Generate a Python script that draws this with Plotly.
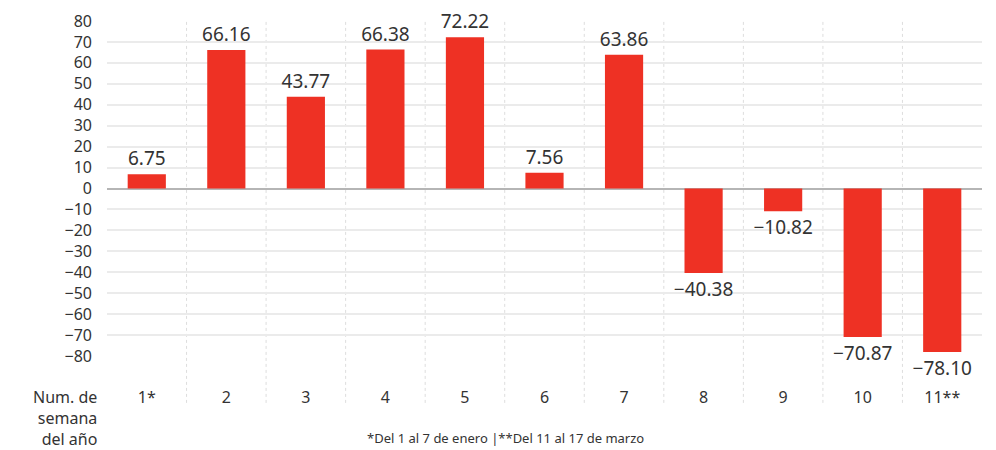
import plotly.graph_objects as go

weeks = ["1", "2", "3", "4", "5", "6", "7", "8", "9", "10", "11"]
week_labels = ["1*", "2", "3", "4", "5", "6", "7", "8", "9", "10", "11**"]
values = [6.75, 66.16, 43.77, 66.38, 72.22, 7.56, 63.86, -40.38, -10.82, -70.87, -78.10]
y_ticks = [80, 70, 60, 50, 40, 30, 20, 10, 0, -10, -20, -30, -40, -50, -60, -70, -80]

FONT = "Noto Sans"
TXT = "#333333"
RED = "#EE3124"

texts = [f"{v:.2f}".replace("-", "\u2212") for v in values]
xpos = list(range(len(weeks)))

fig = go.Figure()
fig.add_trace(go.Bar(
    x=xpos, y=values, marker=dict(color=RED, line=dict(width=0)),
    text=texts, textposition="outside", constraintext="none",
    textfont=dict(family=FONT, size=19, color=TXT),
    cliponaxis=False, hoverinfo="skip",
))

shapes = []
for i in range(len(weeks) - 1):
    shapes.append(dict(type="line", xref="x", yref="paper", x0=i + 0.5, x1=i + 0.5,
                       y0=-0.14, y1=1, line=dict(color="#dddddd", width=1, dash="3px,3px"), layer="below"))

fig.update_layout(
    width=996, height=450,
    margin=dict(l=99, r=22, t=13, b=102),
    paper_bgcolor="white", plot_bgcolor="white",
    bargap=0.52, showlegend=False,
    font=dict(family=FONT, color=TXT),
    shapes=shapes,
    xaxis=dict(tickmode="array", tickvals=xpos, ticktext=week_labels, range=[-0.5, len(weeks) - 0.5],
               showgrid=False, zeroline=False, showline=False, ticks="", automargin=False,
               tickfont=dict(family=FONT, size=16, color=TXT), ticklabelstandoff=30),
    yaxis=dict(range=[-80, 80], tickmode="array", tickvals=y_ticks, automargin=False,
               showgrid=True, gridcolor="#ebebeb", gridwidth=2,
               zeroline=True, zerolinecolor="#b5b5b5", zerolinewidth=2,
               tickfont=dict(family=FONT, size=16, color=TXT), ticks="", ticklabelstandoff=14),
    annotations=[
        dict(text="Num. de<br>semana<br>del año", xref="paper", yref="paper", x=-0.009, y=-0.083,
             xanchor="right", yanchor="top", align="right", showarrow=False,
             font=dict(family=FONT, size=16, color=TXT)),
        dict(text="*Del 1 al 7 de enero |**Del 11 al 17 de marzo", xref="paper", yref="paper",
             x=0.455, y=-0.213, xanchor="center", yanchor="top", showarrow=False,
             font=dict(family=FONT, size=13, color=TXT)),
    ],
)

fig.write_html("out.html")
